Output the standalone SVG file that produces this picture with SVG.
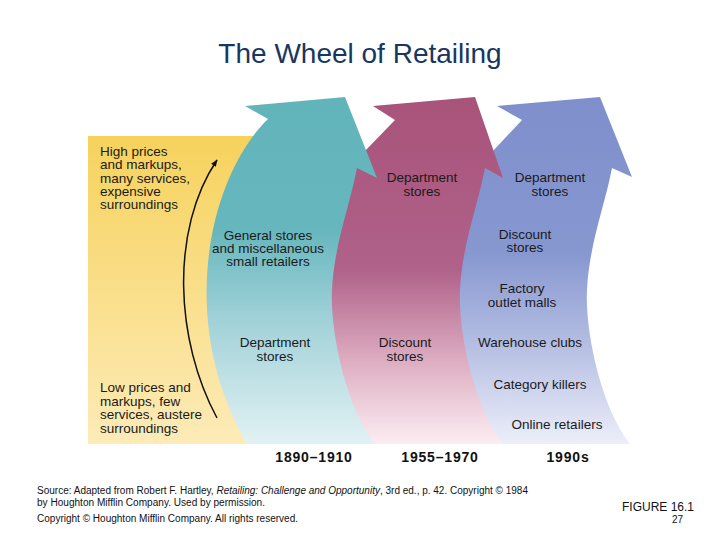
<svg xmlns="http://www.w3.org/2000/svg" width="720" height="540" viewBox="0 0 720 540">
<style>
.t{font-family:"Liberation Sans",Arial,sans-serif;font-size:13.5px;fill:#1a1a1a}
.c{text-anchor:middle}
.yr{font-family:"Liberation Sans",Arial,sans-serif;font-size:14px;font-weight:bold;fill:#111;text-anchor:middle;letter-spacing:0.8px}
.f{font-family:"Liberation Sans",Arial,sans-serif;font-size:10px;fill:#111}
</style>
<defs>
<linearGradient id="gy" x1="0" y1="136" x2="0" y2="444" gradientUnits="userSpaceOnUse">
<stop offset="0" stop-color="#f6d25c"/><stop offset="1" stop-color="#fdebb8"/>
</linearGradient>
<linearGradient id="gt" x1="0" y1="97" x2="0" y2="444" gradientUnits="userSpaceOnUse">
<stop offset="0" stop-color="#62b4bb"/><stop offset="0.38" stop-color="#66b6bd"/><stop offset="0.62" stop-color="#9ccfd6"/><stop offset="1" stop-color="#e2f2f4"/>
</linearGradient>
<linearGradient id="gm" x1="0" y1="97" x2="0" y2="444" gradientUnits="userSpaceOnUse">
<stop offset="0" stop-color="#a8537a"/><stop offset="0.5" stop-color="#b0628a"/><stop offset="0.75" stop-color="#dcaabf"/><stop offset="1" stop-color="#fcedf2"/>
</linearGradient>
<linearGradient id="gb" x1="0" y1="97" x2="0" y2="444" gradientUnits="userSpaceOnUse">
<stop offset="0" stop-color="#7f8fcc"/><stop offset="0.45" stop-color="#8797d0"/><stop offset="0.72" stop-color="#b6bfe3"/><stop offset="1" stop-color="#eceef9"/>
</linearGradient>
<marker id="ah" viewBox="0 0 10 10" refX="9" refY="5" markerWidth="7" markerHeight="7" orient="auto" markerUnits="userSpaceOnUse">
<path d="M0,1 L10,5 L0,9 Z" fill="#111"/>
</marker>
</defs>
<rect width="720" height="540" fill="#fff"/>
<text x="360" y="63" font-family="'Liberation Sans',Arial,sans-serif" font-size="28" fill="#17375e" text-anchor="middle">The Wheel of Retailing</text>

<g id="background">
<rect x="88" y="136" width="185" height="308" fill="url(#gy)"/>
</g>
<g id="arrow-1990s">
<path d="M497,106 L600,97 L632,177 L612,168 C605,205 589,245 587,290 C585,330 600,405 630,444 L478,444 C423,340 438,220 492,152 L522,120 Z" fill="url(#gb)"/>
</g>
<g id="arrow-1955">
<path d="M373,106 L475,97 L503,178 L485,168 C478,205 462,245 460,290 C458,330 473,405 503,444 L350,444 C295,340 310,220 364,152 L395,120 Z" fill="url(#gm)"/>
</g>
<g id="arrow-1890">
<path d="M245,106 L345,97 L377,178 L357,168 C350,205 334,245 332,290 C330,330 345,405 375,444 L247,444 C175,320 210,175 268,119 Z" fill="url(#gt)"/>
</g>

<g id="connectors">
<path d="M217,418 C175,340 170,230 217,160" fill="none" stroke="#111" stroke-width="1.5" marker-end="url(#ah)"/>
</g>

<g id="label-high">
<text class="t" x="100" y="156">High prices</text>
<text class="t" x="100" y="169">and markups,</text>
<text class="t" x="100" y="183">many services,</text>
<text class="t" x="100" y="196">expensive</text>
<text class="t" x="100" y="209">surroundings</text>
</g>
<g id="label-low">
<text class="t" x="100" y="392">Low prices and</text>
<text class="t" x="100" y="406">markups, few</text>
<text class="t" x="100" y="419">services, austere</text>
<text class="t" x="100" y="433">surroundings</text>
</g>
<g id="labels-1890">
<text class="t c" x="268" y="240">General stores</text>
<text class="t c" x="268" y="253">and miscellaneous</text>
<text class="t c" x="268" y="266">small retailers</text>
<text class="t c" x="275" y="347">Department</text>
<text class="t c" x="275" y="361">stores</text>
</g>
<g id="labels-1955">
<text class="t c" x="422" y="182">Department</text>
<text class="t c" x="422" y="196">stores</text>
<text class="t c" x="405" y="347">Discount</text>
<text class="t c" x="405" y="361">stores</text>
</g>
<g id="labels-1990">
<text class="t c" x="550" y="182">Department</text>
<text class="t c" x="550" y="196">stores</text>
<text class="t c" x="525" y="239">Discount</text>
<text class="t c" x="525" y="252">stores</text>
<text class="t c" x="522" y="293">Factory</text>
<text class="t c" x="522" y="307">outlet malls</text>
<text class="t c" x="530" y="347">Warehouse clubs</text>
<text class="t c" x="540" y="389">Category killers</text>
<text class="t c" x="557" y="429">Online retailers</text>
</g>
<g id="years">
<text class="yr" x="314" y="462">1890–1910</text>
<text class="yr" x="440" y="462">1955–1970</text>
<text class="yr" x="568" y="462">1990s</text>
</g>
<g id="footer">
<text class="f" x="37" y="494" textLength="491" lengthAdjust="spacingAndGlyphs">Source: Adapted from Robert F. Hartley, <tspan font-style="italic">Retailing: Challenge and Opportunity</tspan>, 3rd ed., p. 42. Copyright © 1984</text>
<text class="f" x="37" y="506" textLength="228" lengthAdjust="spacingAndGlyphs">by Houghton Mifflin Company. Used by permission.</text>
<text class="f" x="37" y="522" textLength="261" lengthAdjust="spacingAndGlyphs">Copyright © Houghton Mifflin Company. All rights reserved.</text>
<text x="694" y="511" font-family="'Liberation Sans',Arial,sans-serif" font-size="12" fill="#111" text-anchor="end">FIGURE 16.1</text>
<text x="683" y="523" font-family="'Liberation Sans',Arial,sans-serif" font-size="10" fill="#111" text-anchor="end">27</text>
</g>
</svg>
